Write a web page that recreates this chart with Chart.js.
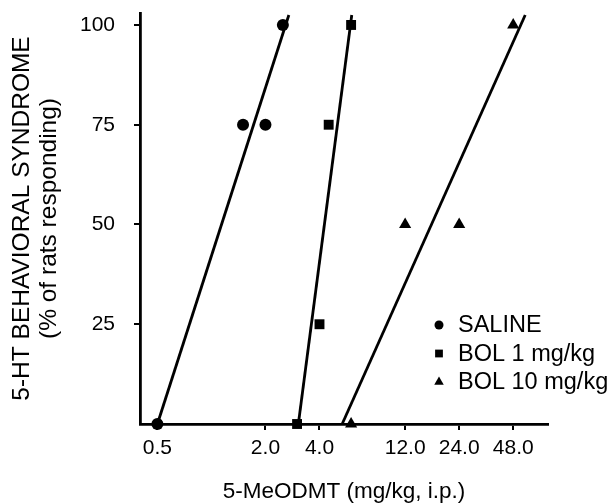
<!DOCTYPE html>
<html>
<head>
<meta charset="utf-8">
<script src="https://cdn.jsdelivr.net/npm/chart.js@4.4.1/dist/chart.umd.min.js"></script>
<style>
  html, body { margin: 0; padding: 0; background: #fff; }
  #graphique { display: block; }
</style>
</head>
<body>
<canvas id="graphique" width="609" height="503"></canvas>
<script>
const noir = '#000';
const police = '"Liberation Sans", Arial, sans-serif';

// doses (mg/kg, echelle log) et reponses (% de rats)
const dosesSaline = [0.5, 1.5, 2.0, 2.5];
const reponsesSaline = [0, 75, 75, 100];
const dosesBol1 = [3.0, 4.0, 4.5, 6.0];
const reponsesBol1 = [0, 25, 75, 100];
const dosesBol10 = [6.0, 12.0, 24.0, 48.0];
const reponsesBol10 = [0, 50, 50, 100];

// extremites des droites ajustees
const droiteSaline = [0.5, 2.7];
const droiteBol1 = [3.05, 6.05];
const droiteBol10 = [5.35, 56];
const droiteReponses = [0, 102.5];

const ticksDoses = [0.5, 2, 4, 12, 24, 48];
const ticksReponses = [25, 50, 75, 100];
const libelles = ['SALINE', 'BOL 1 mg/kg', 'BOL 10 mg/kg'];
const formes = ['circle', 'rect', 'triangle'];
const tailles = [6, 7, 7];

const points = (xs, ys) => xs.map((x, i) => ({ x, y: ys[i] }));

const droite = (xs) => ({
  type: 'line',
  data: points(xs, droiteReponses),
  borderColor: noir,
  borderWidth: 2.8,
  pointRadius: 0,
  clip: false,
});

const nuage = (i, xs, ys) => ({
  type: 'scatter',
  label: libelles[i],
  data: points(xs, ys),
  pointStyle: formes[i],
  pointRadius: tailles[i],
  backgroundColor: noir,
  borderColor: noir,
  borderWidth: 0,
  clip: false,
});

const legendeDansGraphique = {
  id: 'legendeDansGraphique',
  afterDatasetsDraw(chart) {
    const { ctx } = chart;
    const series = chart.data.datasets.filter((d) => d.label);
    ctx.save();
    ctx.fillStyle = noir;
    ctx.font = `23.5px ${police}`;
    ctx.textBaseline = 'middle';
    ctx.textAlign = 'left';
    series.forEach((d, i) => {
      const y = 325 + i * 28.5;
      Chart.helpers.drawPoint(ctx, {
        pointStyle: d.pointStyle, radius: d.pointStyle === 'circle' ? 4.5 : 5.5, rotation: 0, borderWidth: 0,
      }, 439, y);
      ctx.fillText(d.label, 458, y + 1);
    });
    ctx.restore();
  },
};

const sansDebord = (echelle) => {
  echelle.paddingTop = 0;
  echelle.paddingBottom = 0;
  echelle.paddingLeft = 0;
  echelle.paddingRight = 0;
};

/* eslint-disable no-new */
new Chart(document.getElementById('graphique'), {
  plugins: [legendeDansGraphique],
  data: {
    datasets: [
      droite(droiteSaline),
      droite(droiteBol1),
      droite(droiteBol10),
      nuage(0, dosesSaline, reponsesSaline),
      nuage(1, dosesBol1, reponsesBol1),
      nuage(2, dosesBol10, reponsesBol10),
    ],
  },
  options: {
    responsive: false,
    animation: false,
    devicePixelRatio: 1,
    layout: { padding: { top: 13, right: 61, left: 0, bottom: 0 } },
    plugins: {
      legend: { display: false },
      tooltip: { enabled: false },
    },
    scales: {
      x: {
        type: 'logarithmic',
        position: 'bottom',
        min: 0.4,
        max: 75,
        afterBuildTicks: (echelle) => { echelle.ticks = ticksDoses.map((value) => ({ value })); },
        afterFit: (echelle) => { echelle.height = 79; sansDebord(echelle); },
        border: { display: true, color: noir, width: 2.8 },
        grid: { drawOnChartArea: false, drawTicks: true, tickLength: 6, color: noir, lineWidth: 2 },
        ticks: {
          autoSkip: false,
          maxRotation: 0,
          padding: 6,
          color: noir,
          font: { family: police, size: 21 },
          callback: (valeur) => Number(valeur).toFixed(1),
        },
        title: {
          display: true,
          text: '5-MeODMT (mg/kg, i.p.)',
          color: noir,
          font: { family: police, size: 22.5, lineHeight: 1 },
          padding: 0,
        },
      },
      y: {
        type: 'linear',
        min: 0,
        max: 103,
        bounds: 'data',
        afterBuildTicks: (echelle) => { echelle.ticks = ticksReponses.map((value) => ({ value })); },
        afterFit: (echelle) => { echelle.width = 140; sansDebord(echelle); },
        border: { display: true, color: noir, width: 2.8 },
        grid: { drawOnChartArea: false, drawTicks: true, tickLength: 6, color: noir, lineWidth: 2 },
        ticks: {
          padding: 19,
          color: noir,
          font: { family: '"Liberation Sans Narrow", "Liberation Sans", sans-serif', size: 21 },
        },
        title: {
          display: true,
          text: ['5-HT BEHAVIORAL SYNDROME', '(% of rats responding)'],
          color: noir,
          font: { family: police, size: 24.5, lineHeight: 1.1 },
          padding: { top: 8.5, bottom: 0 },
        },
      },
    },
  },
});
/* eslint-enable no-new */
</script>
</body>
</html>
